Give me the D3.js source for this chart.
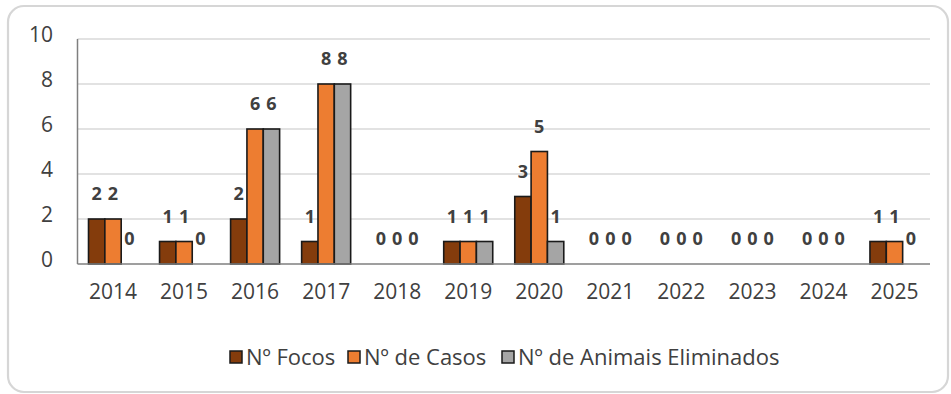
<!DOCTYPE html>
<html>
<head>
<meta charset="utf-8">
<script src="https://cdn.jsdelivr.net/npm/d3@7"></script>
<style>
  html, body { margin: 0; padding: 0; background: #ffffff; }
  svg { display: block; }
</style>
</head>
<body>
<svg id="chart" width="951" height="394"></svg>
<script>
// Anos e séries
const years = ["2014","2015","2016","2017","2018","2019","2020","2021","2022","2023","2024","2025"];
const focos = [2, 1, 2, 1, 0, 1, 3, 0, 0, 0, 0, 1];
const casos = [2, 1, 6, 8, 0, 1, 5, 0, 0, 0, 0, 1];
const animais = [0, 0, 6, 8, 0, 1, 1, 0, 0, 0, 0, 0];
const seriesNames = ["Nº Focos", "Nº de Casos", "Nº de Animais Eliminados"];
const yTicks = [0, 2, 4, 6, 8, 10];

const seriesValues = [focos, casos, animais];
const colors = ["#843C0C", "#ED7D31", "#A5A5A5"];
const font = "'Open Sans', 'Noto Sans', sans-serif";
const textColor = "#404040";

const svg = d3.select("#chart");

// Moldura arredondada do gráfico
svg.append("rect")
  .attr("x", 8).attr("y", 6)
  .attr("width", 940).attr("height", 386)
  .attr("rx", 16).attr("ry", 16)
  .attr("fill", "#ffffff")
  .attr("stroke", "#d6d6d6")
  .attr("stroke-width", 2.2);

const plotLeft = 77.5, plotRight = 930, plotTop = 39, plotBottom = 264;

const x0 = d3.scaleBand().domain(years).range([plotLeft, plotRight]).padding(0);
const groupW = x0.bandwidth() * 0.69;
const x1 = d3.scaleBand().domain(d3.range(3))
  .range([(x0.bandwidth() - groupW) / 2, (x0.bandwidth() + groupW) / 2]).padding(0);
const y = d3.scaleLinear().domain([0, 10]).range([plotBottom, plotTop]);

// Linhas de grade
svg.append("g")
  .selectAll("line")
  .data(yTicks.filter(t => t > 0))
  .join("line")
  .attr("x1", plotLeft).attr("x2", plotRight)
  .attr("y1", d => y(d)).attr("y2", d => y(d))
  .attr("stroke", "#d9d9d9")
  .attr("stroke-width", 1.5);

// Eixo Y (rótulos)
const yAxis = d3.axisLeft(y).tickValues(yTicks).tickSize(0).tickPadding(0);
const gy = svg.append("g").attr("transform", "translate(53,0)").call(yAxis);
gy.select(".domain").remove();
gy.selectAll("text")
  .attr("font-family", font)
  .attr("font-size", 21)
  .attr("fill", textColor)
  .attr("y", -4)
  .attr("dy", "0.32em");

// Eixo X (rótulos)
const xAxis = d3.axisBottom(x0).tickSize(0).tickPadding(0);
const gx = svg.append("g").attr("transform", `translate(0,${plotBottom})`).call(xAxis);
gx.select(".domain").remove();
gx.selectAll("text")
  .attr("font-family", font)
  .attr("font-size", 21)
  .attr("fill", textColor)
  .attr("y", 28)
  .attr("dy", "0.32em");

// Barras
const groups = svg.append("g")
  .selectAll("g")
  .data(years)
  .join("g")
  .attr("transform", d => `translate(${x0(d)},0)`);

groups.selectAll("rect")
  .data((yr, i) => seriesValues.map((vals, s) => ({ s, v: vals[i] })).filter(d => d.v > 0))
  .join("rect")
  .attr("x", d => x1(d.s))
  .attr("width", x1.bandwidth())
  .attr("y", d => y(d.v))
  .attr("height", d => y(0) - y(d.v))
  .attr("fill", d => colors[d.s])
  .attr("stroke", "#1a1a1a")
  .attr("stroke-width", 1.6);

// Eixos (linhas)
svg.append("line")
  .attr("x1", plotLeft).attr("x2", plotLeft)
  .attr("y1", plotTop).attr("y2", plotBottom)
  .attr("stroke", "#7f7f7f").attr("stroke-width", 1.5);
svg.append("line")
  .attr("x1", plotLeft).attr("x2", plotRight)
  .attr("y1", plotBottom).attr("y2", plotBottom)
  .attr("stroke", "#7f7f7f").attr("stroke-width", 1.5);

// Rótulos de dados
groups.selectAll("text.val")
  .data((yr, i) => seriesValues.map((vals, s) => ({ s, v: vals[i] })))
  .join("text")
  .attr("class", "val")
  .attr("x", d => x1(d.s) + x1.bandwidth() / 2)
  .attr("y", d => y(d.v) - 19)
  .attr("text-anchor", "middle")
  .attr("font-family", font)
  .attr("font-size", 18)
  .attr("font-weight", "bold")
  .attr("fill", textColor)
  .text(d => d.v);

// Legenda
const legendItems = [
  { name: seriesNames[0], color: colors[0], x: 230 },
  { name: seriesNames[1], color: colors[1], x: 348 },
  { name: seriesNames[2], color: colors[2], x: 502 }
];
const li = svg.append("g").selectAll("g")
  .data(legendItems)
  .join("g")
  .attr("transform", d => `translate(${d.x},351)`);
li.append("rect")
  .attr("width", 12).attr("height", 12)
  .attr("fill", d => d.color)
  .attr("stroke", "#1a1a1a")
  .attr("stroke-width", 1.5);
li.append("text")
  .attr("x", 16)
  .attr("y", 6)
  .attr("dy", "0.35em")
  .attr("font-family", font)
  .attr("font-size", 22)
  .attr("fill", textColor)
  .text(d => d.name);
</script>
</body>
</html>
